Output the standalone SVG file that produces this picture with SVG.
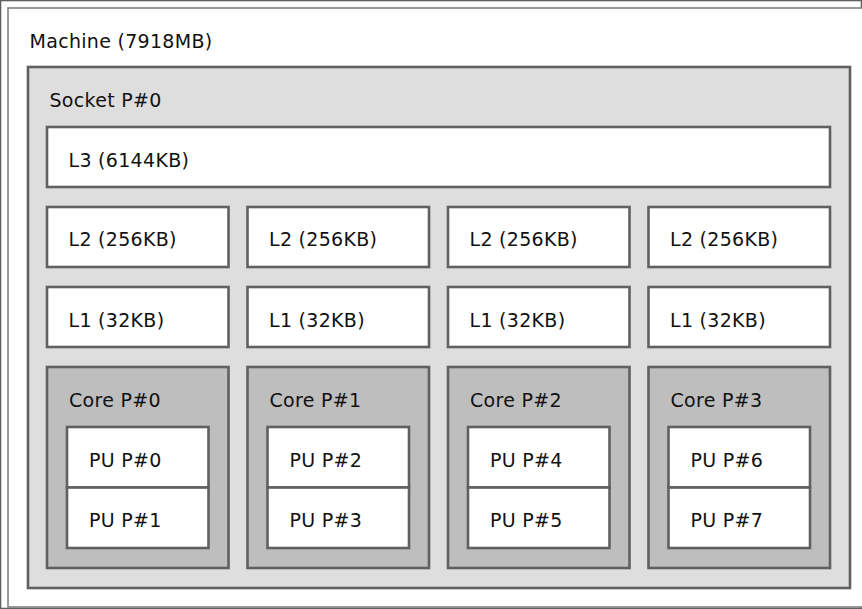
<svg xmlns="http://www.w3.org/2000/svg" width="862" height="609" viewBox="0 0 862 609">
<style>
rect{stroke:#606060;stroke-width:2.6}
.m{fill:#fff;stroke:#808080;stroke-width:1.6}
.s{fill:#dedede}
.c{fill:#fff}
.k{fill:#bebebe}
.p{fill:#fff}
text{font-family:"DejaVu Sans",Verdana,sans-serif;font-size:19px;letter-spacing:0.3px;fill:#111}
</style>
<rect width="862" height="609" fill="#fff" stroke="none"/>
<g id="machine"><rect class="m" x="8" y="8" width="870" height="599"/><text x="29.5" y="48">Machine (7918MB)</text></g>
<g id="socket"><rect class="s" x="28" y="67" width="822" height="521"/><text x="49.5" y="107">Socket P#0</text></g>
<g id="l3"><rect class="c" x="47" y="127" width="783" height="60"/><text x="68.5" y="167">L3 (6144KB)</text></g>
<g id="l2-0"><rect class="c" x="47" y="207" width="181.5" height="60"/><text x="68.5" y="246">L2 (256KB)</text></g>
<g id="l2-1"><rect class="c" x="247.5" y="207" width="181.5" height="60"/><text x="269" y="246">L2 (256KB)</text></g>
<g id="l2-2"><rect class="c" x="448" y="207" width="181.5" height="60"/><text x="469.5" y="246">L2 (256KB)</text></g>
<g id="l2-3"><rect class="c" x="648.5" y="207" width="181.5" height="60"/><text x="670" y="246">L2 (256KB)</text></g>
<g id="l1-0"><rect class="c" x="47" y="287" width="181.5" height="60"/><text x="68.5" y="327">L1 (32KB)</text></g>
<g id="l1-1"><rect class="c" x="247.5" y="287" width="181.5" height="60"/><text x="269" y="327">L1 (32KB)</text></g>
<g id="l1-2"><rect class="c" x="448" y="287" width="181.5" height="60"/><text x="469.5" y="327">L1 (32KB)</text></g>
<g id="l1-3"><rect class="c" x="648.5" y="287" width="181.5" height="60"/><text x="670" y="327">L1 (32KB)</text></g>
<g id="core0"><rect class="k" x="47" y="367" width="181.5" height="201"/><text x="69" y="407">Core P#0</text></g>
<g id="core1"><rect class="k" x="247.5" y="367" width="181.5" height="201"/><text x="269.5" y="407">Core P#1</text></g>
<g id="core2"><rect class="k" x="448" y="367" width="181.5" height="201"/><text x="470" y="407">Core P#2</text></g>
<g id="core3"><rect class="k" x="648.5" y="367" width="181.5" height="201"/><text x="670.5" y="407">Core P#3</text></g>
<g id="pu0"><rect class="p" x="67" y="427" width="141.5" height="60.5"/><text x="89" y="467">PU P#0</text></g>
<g id="pu1"><rect class="p" x="67" y="487.5" width="141.5" height="60.5"/><text x="89" y="527">PU P#1</text></g>
<g id="pu2"><rect class="p" x="267.5" y="427" width="141.5" height="60.5"/><text x="289.5" y="467">PU P#2</text></g>
<g id="pu3"><rect class="p" x="267.5" y="487.5" width="141.5" height="60.5"/><text x="289.5" y="527">PU P#3</text></g>
<g id="pu4"><rect class="p" x="468" y="427" width="141.5" height="60.5"/><text x="490" y="467">PU P#4</text></g>
<g id="pu5"><rect class="p" x="468" y="487.5" width="141.5" height="60.5"/><text x="490" y="527">PU P#5</text></g>
<g id="pu6"><rect class="p" x="668.5" y="427" width="141.5" height="60.5"/><text x="690.5" y="467">PU P#6</text></g>
<g id="pu7"><rect class="p" x="668.5" y="487.5" width="141.5" height="60.5"/><text x="690.5" y="527">PU P#7</text></g>
<g id="connectors"/>
</svg>
